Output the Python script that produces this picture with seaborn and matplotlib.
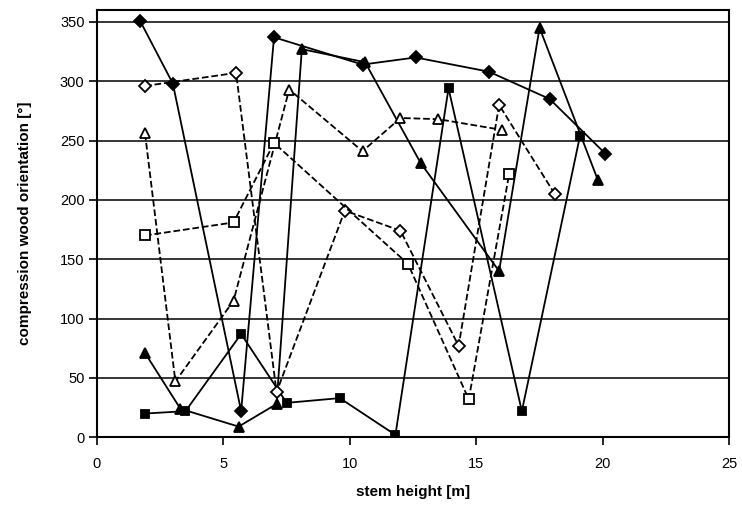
import matplotlib
matplotlib.use("Agg")
import matplotlib.pyplot as plt
import seaborn as sns
import pandas as pd

# data: stem height [m] / orientation [deg]
dia_x = [1.7, 3.0, 5.7, 7.0, 10.5, 12.6, 15.5, 17.9, 20.1]
dia_y = [351, 298, 22, 337, 314, 320, 308, 285, 239]

tri_x = [1.9, 3.3, 5.6, 7.1, 8.1, 10.6, 12.8, 15.9, 17.5, 19.8]
tri_y = [71, 24, 9, 28, 327, 316, 231, 140, 345, 217]

sq_x = [1.9, 3.5, 5.7, 7.5, 9.6, 11.8, 13.9, 16.8, 19.1]
sq_y = [20, 22, 87, 29, 33, 2, 294, 22, 254]

odia_x = [1.9, 5.5, 7.1, 9.8, 12.0, 14.3, 15.9, 18.1]
odia_y = [296, 307, 38, 191, 174, 77, 280, 205]

otri_x = [1.9, 3.1, 5.4, 7.6, 10.5, 12.0, 13.5, 16.0]
otri_y = [256, 47, 115, 293, 241, 269, 268, 259]

osq_x = [1.9, 5.4, 7.0, 12.3, 14.7, 16.3]
osq_y = [170, 181, 248, 146, 32, 222]

sns.set_style("white")
plt.rcParams["font.family"] = ["Liberation Sans", "DejaVu Sans"]
plt.rcParams["text.color"] = "black"
plt.rcParams["axes.labelcolor"] = "black"

fig = plt.figure(figsize=(7.42, 5.17), dpi=100)
ax = fig.add_axes([0.1307, 0.1542, 0.8521, 0.8265])

# horizontal grid first so lines sit on top
for yy in range(50, 351, 50):
    ax.axhline(yy, color="black", lw=1.1, zorder=1)

series = [
    (dia_x, dia_y, "D", "black", "-", 6),
    (tri_x, tri_y, "^", "black", "-", 7.5),
    (sq_x, sq_y, "s", "black", "-", 6),
    (odia_x, odia_y, "D", "white", "--", 6),
    (otri_x, otri_y, "^", "white", "--", 7.5),
    (osq_x, osq_y, "s", "white", "--", 6.5),
]

for xs, ys, mk, fc, ls, ms in series:
    df = pd.DataFrame({"h": xs, "o": ys})
    sns.lineplot(data=df, x="h", y="o", sort=False, estimator=None, ax=ax,
                 color="black", linestyle=ls, lw=1.3, marker=mk, markersize=ms,
                 markerfacecolor=fc, markeredgecolor="black", markeredgewidth=1.3,
                 zorder=3)

ax.set_xlim(0, 25)
ax.set_ylim(0, 360)
ax.set_xticks([0, 5, 10, 15, 20, 25])
ax.set_yticks(range(0, 351, 50))
ax.tick_params(axis="both", direction="out", length=6, width=1.2, labelsize=10.5,
               colors="black", bottom=True, left=True)
ax.tick_params(axis="x", pad=8)
ax.tick_params(axis="y", pad=3)

for sp in ax.spines.values():
    sp.set_color("black")
    sp.set_linewidth(1.5)

ax.set_xlabel("stem height [m]", fontsize=11, fontweight="bold", labelpad=10)
ax.set_ylabel("compression wood orientation [°]", fontsize=11, fontweight="bold", labelpad=20)

fig.savefig("out.png", dpi=100)
